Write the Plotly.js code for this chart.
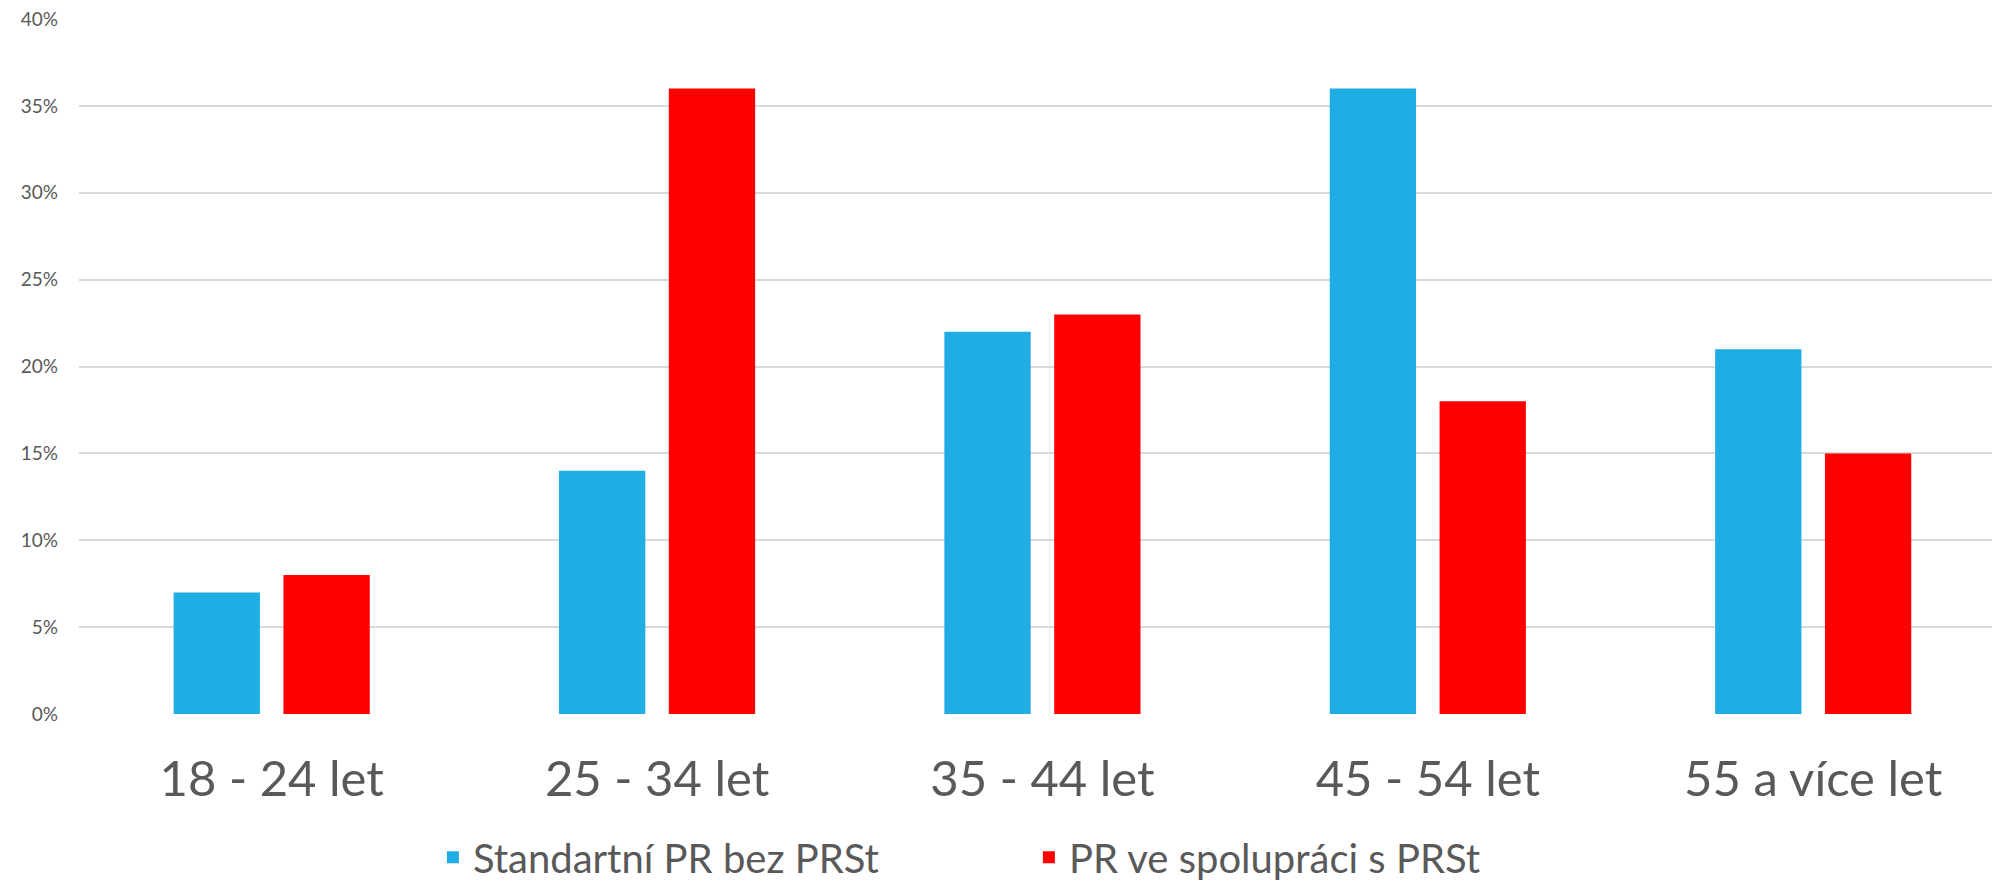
<!DOCTYPE html>
<html>
<head>
<meta charset="utf-8">
<script src="https://cdn.plot.ly/plotly-3.0.1.min.js"></script>
<style>html,body{margin:0;padding:0;background:#fff;}#chart{width:1992px;height:882px;}</style>
</head>
<body>
<div id="chart"></div>
<script>
const categories = ["18 - 24 let", "25 - 34 let", "35 - 44 let", "45 - 54 let", "55 a více let"];
const seriesNames = ["Standartní PR bez PRSt", "PR ve spolupráci s PRSt"];
const standardValues = [0.07, 0.14, 0.22, 0.36, 0.21];
const cooperationValues = [0.08, 0.36, 0.23, 0.18, 0.15];
const yTickValues = [0, 0.05, 0.10, 0.15, 0.20, 0.25, 0.30, 0.35, 0.40];
const yTickLabels = ["0%", "5%", "10%", "15%", "20%", "25%", "30%", "35%", "40%"];

const textColor = "#595959";
const font = "Lato, 'Open Sans', sans-serif";

const data = [
  {type: "bar", name: seriesNames[0], x: categories, y: standardValues,
   marker: {color: "#1FADE4"}, hoverinfo: "y"},
  {type: "bar", name: seriesNames[1], x: categories, y: cooperationValues,
   marker: {color: "#FF0000"}, hoverinfo: "y"}
];

const layout = {
  width: 1992, height: 882,
  margin: {l: 79, r: 0, t: 19, b: 168, pad: 0},
  paper_bgcolor: "#fff", plot_bgcolor: "#fff",
  font: {family: font, color: textColor},
  barmode: "group",
  bargap: 0.43,
  bargroupgap: 0.214,
  xaxis: {
    type: "category",
    range: [-0.5, 4.464],
    showgrid: false, zeroline: false, showline: false,
    ticks: "", ticklabelstandoff: 32,
    tickfont: {size: 49, color: textColor, family: font}
  },
  yaxis: {
    range: [0, 0.40],
    tickvals: yTickValues, ticktext: yTickLabels,
    showgrid: true, gridcolor: "#D9D9D9", gridwidth: 2,
    zeroline: false, showline: false, ticks: "",
    ticklabelstandoff: 20,
    tickfont: {size: 19, color: textColor, family: font}
  },
  showlegend: true,
  legend: {
    orientation: "h",
    xref: "paper", x: 0.185, xanchor: "left",
    yref: "container", y: 0.028, yanchor: "middle",
    font: {size: 40, color: textColor, family: font},
    entrywidthmode: "pixels", entrywidth: 551,
    bgcolor: "rgba(0,0,0,0)"
  }
};

Plotly.newPlot("chart", data, layout, {displayModeBar: false, staticPlot: true});
</script>
</body>
</html>
